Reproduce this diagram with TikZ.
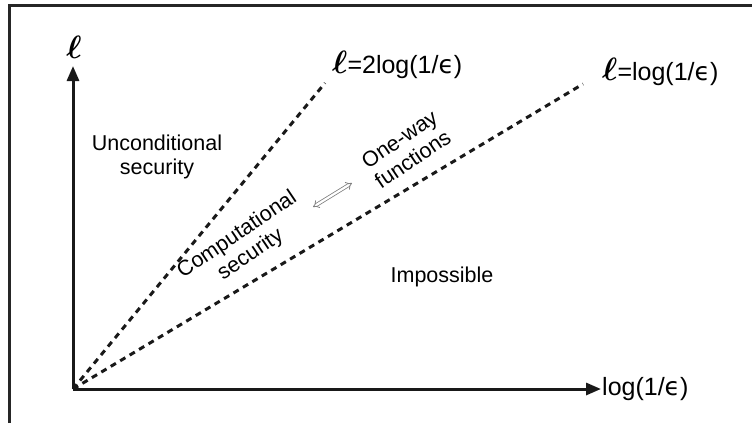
\documentclass[tikz,border=0pt]{standalone}
\usepackage{amsmath,amssymb}
\usepackage{graphicx}
\usepackage{fontspec}
\setmainfont{Liberation Sans}
\newfontfamily\epsfont{DejaVu Sans}
\usetikzlibrary{arrows.meta}

\newcommand{\eps}{{\epsfont ϵ}}
\newcommand{\bigell}{\scalebox{1.3}{$\boldsymbol{\ell}$}}

\begin{document}
\begin{tikzpicture}[x=1pt,y=-1pt,
    axis/.style={line width=3pt,draw=black!90,-{Triangle[length=15pt,width=12pt]}},
    bound/.style={line width=3pt,draw=black!90,dash pattern=on 6pt off 5pt},
    region/.style={align=center,font=\fontsize{21.5}{24}\selectfont,inner sep=0pt},
    curvelabel/.style={anchor=west,font=\fontsize{25}{28}\selectfont,inner sep=1pt},
    duality/.style={draw=black!50,line width=0.8pt,double=white,double distance=2.2pt,{Implies}-{Implies}}]
    \useasboundingbox (0,0) rectangle (752,423);
    \draw[line width=3pt,draw=black!85] (9.5,423) -- (9.5,5.5) -- (752,5.5);
    % axes
    \coordinate (O) at (73,389);
    \coordinate (ytip) at (73,66);
    \coordinate (xtip) at (601,389);
    \draw[axis] (O) -- (ytip);
    \draw[axis] (O) -- (xtip);
    \node[inner sep=0pt,font=\fontsize{25}{28}\selectfont] (ylab) at (74,47) {\bigell};
    \node[curvelabel] (xlab) at (xtip) {log(1/\eps)};
    % the two bounds
    \coordinate (twoend) at (325,83);
    \coordinate (oneend) at (583,84);
    \draw[bound] (O) -- (twoend);
    \draw[bound] (O) -- (oneend);
    \node[curvelabel] (twolab) at (331,65) {\bigell=2log(1/\eps)};
    \node[curvelabel] (onelab) at (601,72) {\bigell=log(1/\eps)};
    % regions
    \node[region] (uncond) at (157,157) {Unconditional\\security};
    \node[region,rotate=34] (comp) at (244,245) {Computational\\security};
    \node[region,rotate=34] (owf) at (406,149) {One-way\\functions};
    \node[region] (imposs) at (442,277) {Impossible};
    \coordinate (dl) at (313,207);
    \coordinate (dr) at (352,183);
    \draw[duality] (dl) -- (dr);
\end{tikzpicture}
\end{document}
